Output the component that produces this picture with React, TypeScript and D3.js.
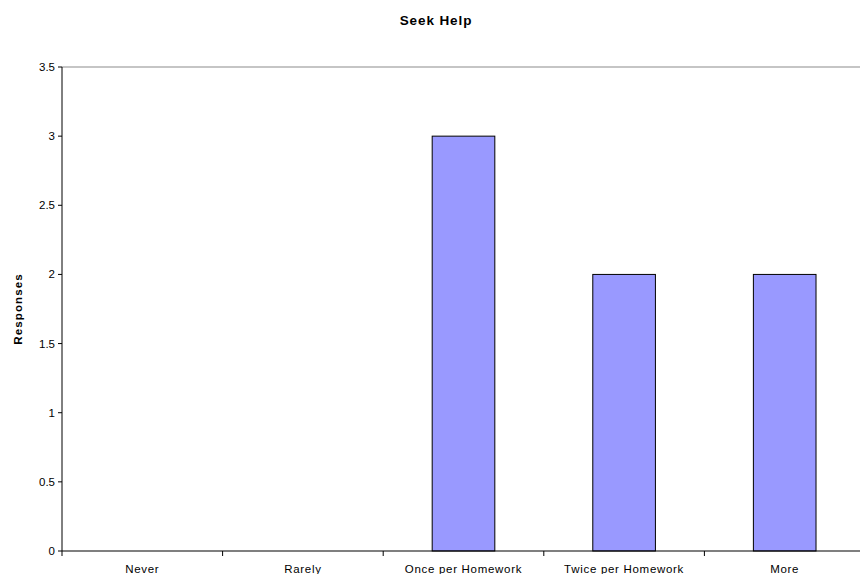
import React from "react";
import * as d3 from "d3";

const categories = ["Never", "Rarely", "Once per Homework", "Twice per Homework", "More"];
const responses = [0, 0, 3, 2, 2];
const yTicks = [0, 0.5, 1, 1.5, 2, 2.5, 3, 3.5];

const W = 860;
const H = 574;
const left = 62;
const right = 865;
const top = 67;
const bottom = 551;

export default function App() {
  const x = d3.scaleBand<string>().domain(categories).range([left, right]).paddingInner(0).paddingOuter(0);
  const y = d3.scaleLinear().domain([0, 3.5]).range([bottom, top]);
  const barW = x.bandwidth() * 0.39;
  const font = "Arial, 'Liberation Sans', sans-serif";

  return (
    <svg width={W} height={H} style={{ position: "absolute", left: 0, top: 0 }} fontFamily={font}>
      <rect width={W} height={H} fill="#ffffff" />
      <text x={436} y={25} textAnchor="middle" fontSize={13.5} fontWeight="bold" letterSpacing={0.9} fill="#000">
        Seek Help
      </text>
      <line x1={left} x2={W} y1={top} y2={top} stroke="#8c8c8c" strokeWidth={1.2} />
      {categories.map((c, i) => {
        const v = responses[i];
        if (v <= 0) return null;
        const cx = x(c)! + x.bandwidth() / 2;
        return (
          <rect
            key={c}
            x={cx - barW / 2}
            y={y(v)}
            width={barW}
            height={y(0) - y(v)}
            fill="#9999FF"
            stroke="#000"
            strokeWidth={1}
          />
        );
      })}
      <line x1={left} x2={left} y1={top} y2={bottom} stroke="#000" strokeWidth={1} />
      <line x1={left} x2={W} y1={bottom} y2={bottom} stroke="#000" strokeWidth={1.2} />
      {yTicks.map((t) => (
        <g key={t}>
          <line x1={left - 4} x2={left} y1={y(t)} y2={y(t)} stroke="#000" />
          <text x={left - 7} y={y(t) + 4} textAnchor="end" fontSize={11.5} fill="#000">
            {t}
          </text>
        </g>
      ))}
      {categories.map((c) => (
        <line key={c + "t"} x1={x(c)!} x2={x(c)!} y1={bottom} y2={bottom + 5} stroke="#000" />
      ))}
      {categories.map((c) => (
        <text
          key={c + "l"}
          x={x(c)! + x.bandwidth() / 2}
          y={573}
          textAnchor="middle"
          fontSize={11.5}
          letterSpacing={0.7}
          fill="#000"
        >
          {c}
        </text>
      ))}
      <text
        transform={`translate(22,${(top + bottom) / 2}) rotate(-90)`}
        textAnchor="middle"
        fontSize={11.5}
        fontWeight="bold"
        letterSpacing={1.1}
        fill="#000"
      >
        Responses
      </text>
    </svg>
  );
}
